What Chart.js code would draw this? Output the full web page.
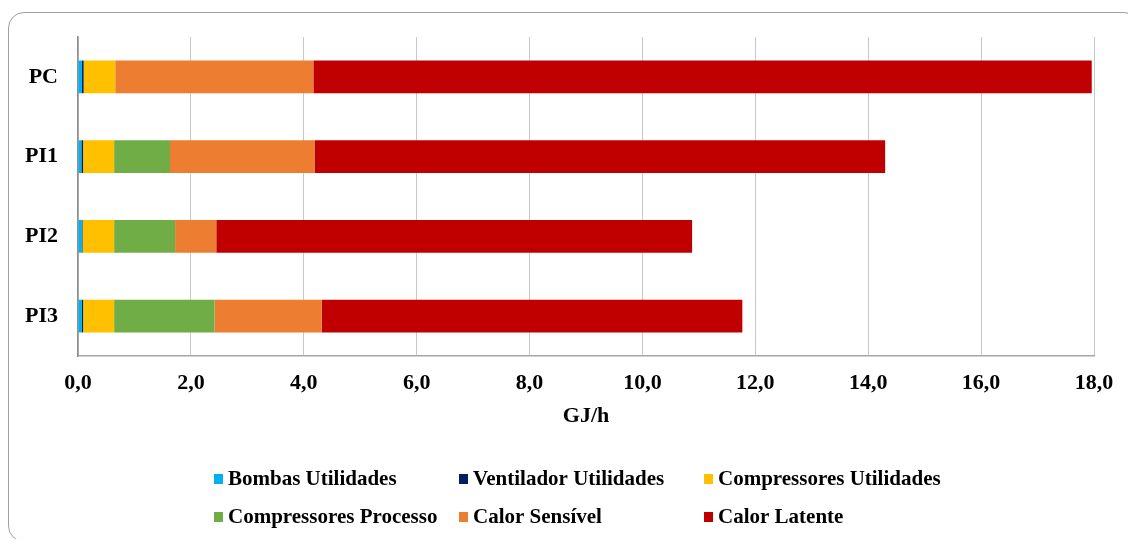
<!DOCTYPE html>
<html>
<head>
<meta charset="utf-8">
<script src="https://cdn.jsdelivr.net/npm/chart.js@4.4.1/dist/chart.umd.min.js"></script>
<style>
  html, body { margin: 0; padding: 0; background: #ffffff; overflow: hidden; }
  #frame {
    position: absolute; left: 8px; top: 12px; width: 1132px; height: 530px;
    border: 1.5px solid #a0a0a0; border-radius: 16px; box-sizing: border-box;
  }
  #wrap { position: absolute; left: 0; top: 0; width: 1128px; height: 539px; }
</style>
</head>
<body>
<div id="frame"></div>
<div id="wrap"><canvas id="c" width="1128" height="539"></canvas></div>
<script>
// Energy demand per configuration (GJ/h), split by consumer
const categories = ['PC', 'PI1', 'PI2', 'PI3'];
const bombasUtilidades       = [0.07, 0.06, 0.07, 0.07];
const ventiladorUtilidades   = [0.03, 0.03, 0.01, 0.02];
const compressoresUtilidades = [0.56, 0.55, 0.56, 0.55];
const compressoresProcesso   = [0.00, 0.99, 1.08, 1.78];
const calorSensivel          = [3.51, 2.56, 0.73, 1.90];
const calorLatente           = [13.79, 10.11, 8.43, 7.45];
const xTicks = [0, 2, 4, 6, 8, 10, 12, 14, 16, 18];

const seriesNames = ['Bombas Utilidades', 'Ventilador Utilidades', 'Compressores Utilidades',
                     'Compressores Processo', 'Calor Sensível', 'Calor Latente'];
const seriesData = [bombasUtilidades, ventiladorUtilidades, compressoresUtilidades,
                    compressoresProcesso, calorSensivel, calorLatente];
const seriesColors = ['#00B0F0', '#002060', '#FFC000', '#70AD47', '#ED7D31', '#C00000'];

const FONT = "'Liberation Serif', 'Times New Roman', serif";

// Legend drawn as a 3-column grid below the axis title
const gridLegend = {
  id: 'gridLegend',
  afterDraw(chart) {
    const ctx = chart.ctx;
    const cols = [218, 463, 708];
    const rows = [479, 517];
    ctx.save();
    ctx.font = "bold 21px " + FONT;
    ctx.textBaseline = 'middle';
    ctx.textAlign = 'left';
    chart.data.datasets.forEach((ds, i) => {
      const x = cols[i % 3];
      const y = rows[Math.floor(i / 3)];
      ctx.fillStyle = ds.backgroundColor;
      ctx.fillRect(x - 4, y - 5, 9, 10);
      ctx.fillStyle = '#000000';
      ctx.fillText(ds.label, x + 10, y + 1);
    });
    ctx.restore();
  }
};

new Chart(document.getElementById('c'), {
  type: 'bar',
  data: {
    labels: categories,
    datasets: seriesNames.map((name, i) => ({
      label: name,
      data: seriesData[i],
      backgroundColor: seriesColors[i],
      borderWidth: 0,
      barPercentage: 0.41,
      categoryPercentage: 1.0
    }))
  },
  options: {
    indexAxis: 'y',
    responsive: false,
    animation: false,
    layout: { padding: { left: 0, top: 37, right: 34, bottom: 109 } },
    plugins: { legend: { display: false }, tooltip: { enabled: false } },
    scales: {
      x: {
        stacked: true,
        min: 0, max: 18,
        afterBuildTicks(scale) { scale.ticks = xTicks.map(v => ({ value: v })); },
        afterFit(scale) { scale.height = 74; },
        ticks: {
          padding: 14,
          color: '#000000',
          font: { family: FONT, size: 22, weight: 'bold' },
          callback: (v) => Number(v).toFixed(1).replace('.', ',')
        },
        grid: { color: '#c8c8c8', lineWidth: 1, drawTicks: false },
        border: { color: '#a6a6a6', width: 1.5 },
        title: {
          display: true, text: 'GJ/h', color: '#000000',
          padding: { top: 0, bottom: 0 },
          font: { family: FONT, size: 22, weight: 'bold' }
        }
      },
      y: {
        stacked: true,
        afterFit(scale) { scale.width = 78; },
        ticks: {
          padding: 20,
          color: '#000000',
          font: { family: FONT, size: 22, weight: 'bold' }
        },
        grid: { display: false, drawTicks: false },
        border: { color: '#8c8c8c', width: 1.5 }
      }
    }
  },
  plugins: [gridLegend]
});
</script>
</body>
</html>
